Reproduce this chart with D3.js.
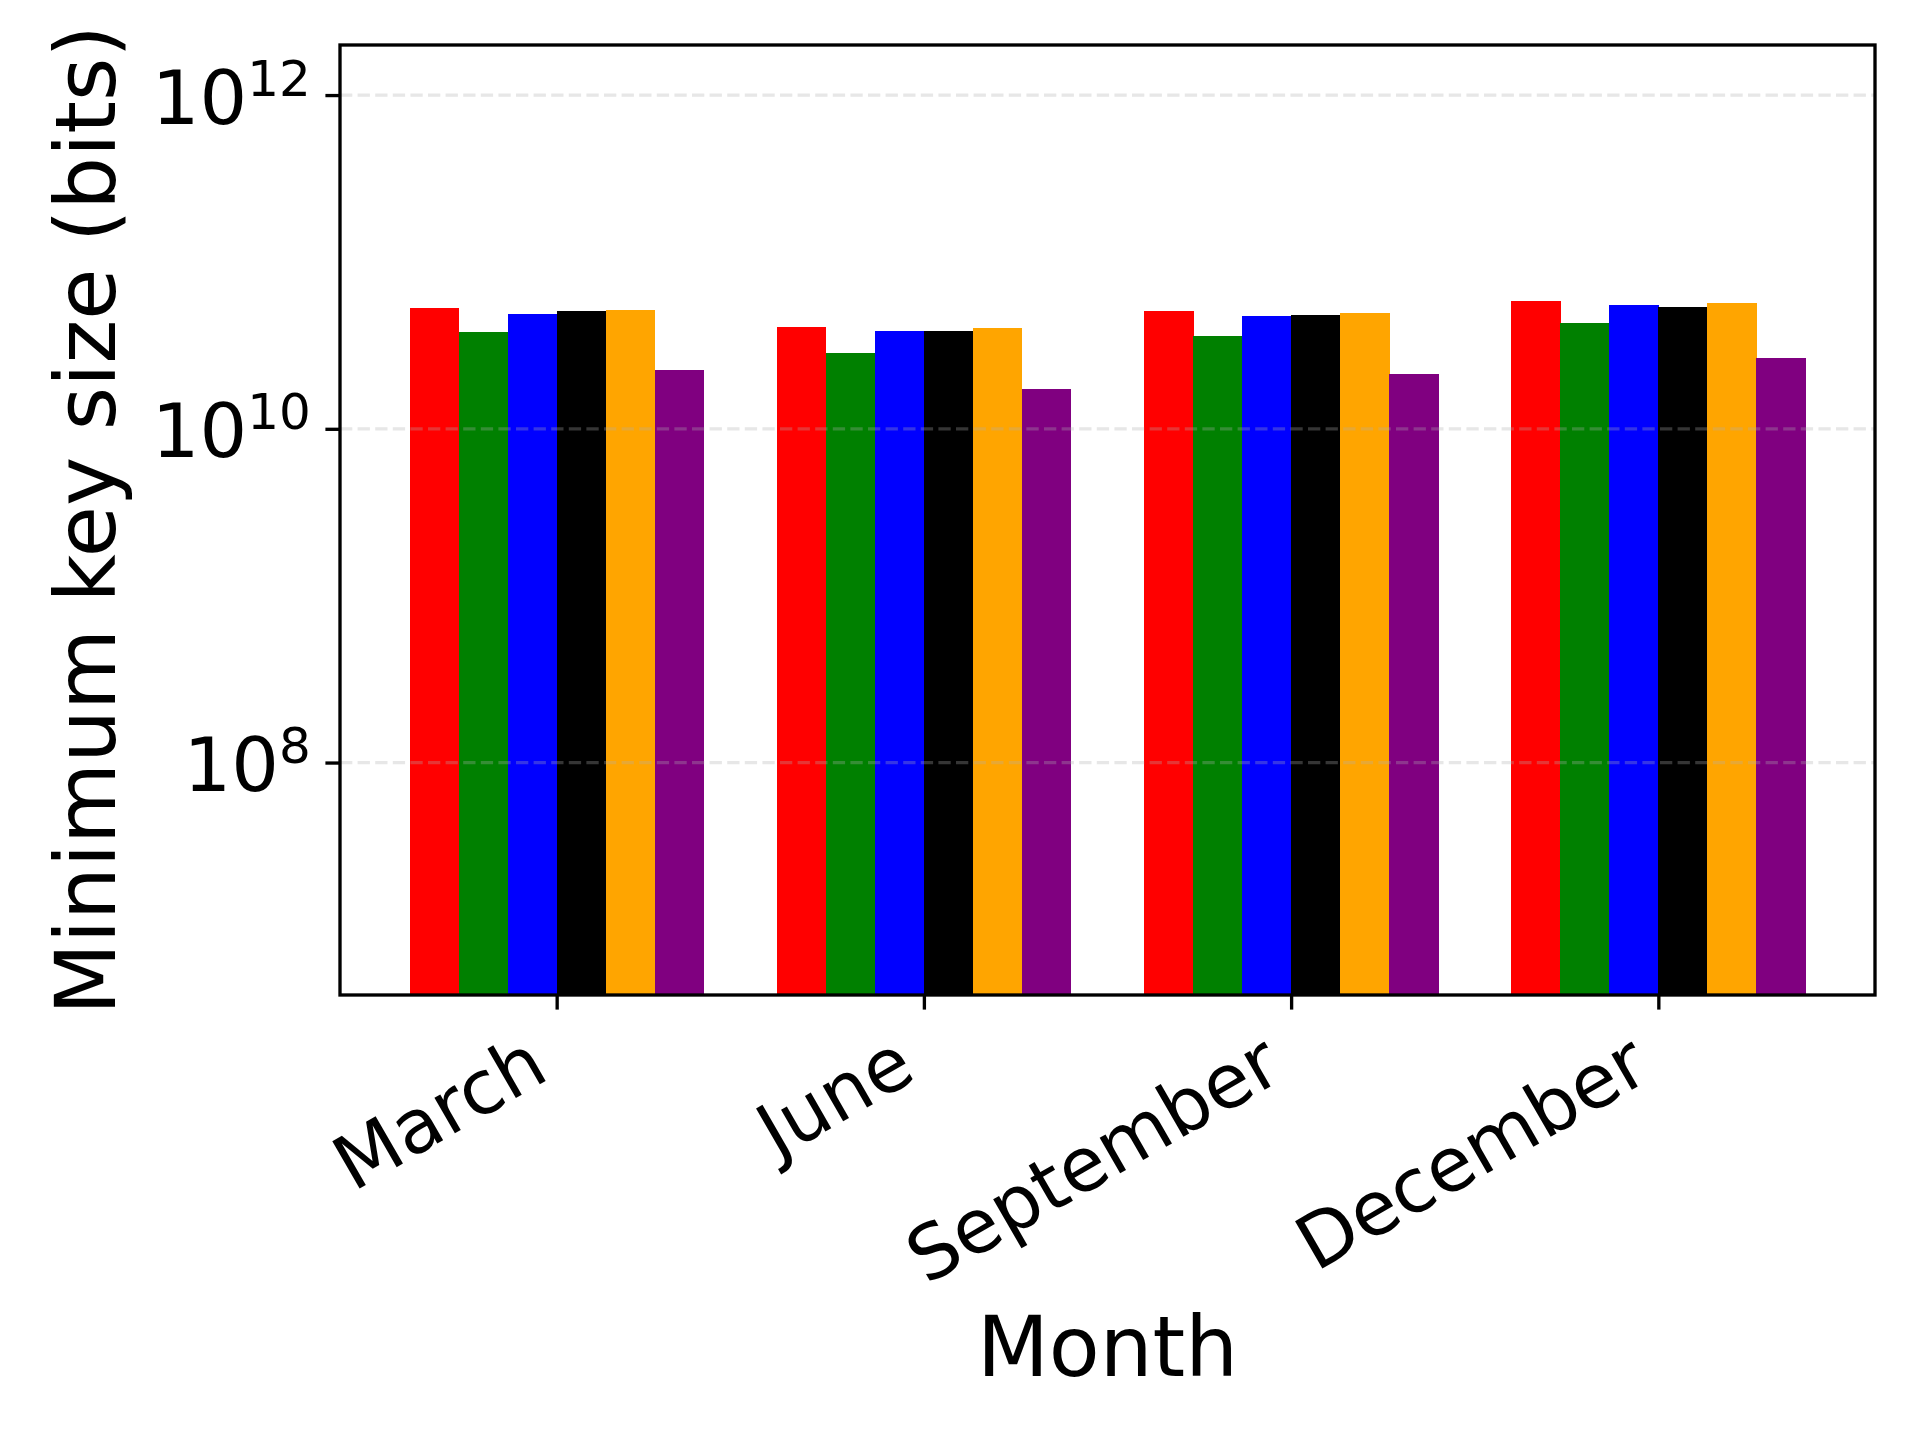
<!DOCTYPE html>
<html>
<head>
<meta charset="utf-8">
<script src="https://cdn.jsdelivr.net/npm/d3@7"></script>
<style>
  html, body { margin: 0; padding: 0; background: #fff; }
  svg { display: block; font-family: "DejaVu Sans", sans-serif; }
</style>
</head>
<body>
<svg id="chart" width="1920" height="1440"></svg>
<script>
// ---- data ----
const months = ["March", "June", "September", "December"];
const seriesColors = ["#ff0000", "#008000", "#0000ff", "#000000", "#ffa500", "#800080"];
const seriesRed    = [5.31e10, 4.08e10, 5.09e10, 5.85e10];
const seriesGreen  = [3.81e10, 2.85e10, 3.61e10, 4.31e10];
const seriesBlue   = [4.89e10, 3.87e10, 4.75e10, 5.53e10];
const seriesBlack  = [5.09e10, 3.86e10, 4.82e10, 5.38e10];
const seriesOrange = [5.17e10, 4.03e10, 4.95e10, 5.69e10];
const seriesPurple = [2.26e10, 1.74e10, 2.14e10, 2.66e10];
const yTickValues = [1e8, 1e10, 1e12];
const yTickExponents = ["8", "10", "12"];
const xLabel = "Month";
const yLabel = "Minimum key size (bits)";

const series = [seriesRed, seriesGreen, seriesBlue, seriesBlack, seriesOrange, seriesPurple];

// ---- layout ----
const L = 340, R = 1875, T = 45, B = 995;
const groupWidth = 0.8;
const nSeries = series.length;
const barW = groupWidth / nSeries;

const svg = d3.select("#chart");

const x = d3.scaleLinear().domain([-0.59, 3.59]).range([L, R]);
const y = d3.scaleLog().domain([Math.pow(10, 6.607), Math.pow(10, 12.30)]).range([B, T]);

// bars
const barsG = svg.append("g").attr("shape-rendering", "crispEdges");
series.forEach((vals, si) => {
  barsG.selectAll(null)
    .data(vals)
    .enter()
    .append("rect")
    .attr("x", (d, i) => x(i - groupWidth / 2 + si * barW))
    .attr("width", x(barW) - x(0) + 0.5)
    .attr("y", d => y(d))
    .attr("height", d => B - y(d))
    .attr("fill", seriesColors[si]);
});

// grid lines (drawn over bars)
svg.append("g")
  .selectAll("line")
  .data(yTickValues)
  .enter()
  .append("line")
  .attr("x1", L).attr("x2", R)
  .attr("y1", d => y(d)).attr("y2", d => y(d))
  .attr("stroke", "#b0b0b0")
  .attr("stroke-opacity", 0.3)
  .attr("stroke-width", 3.33)
  .attr("stroke-dasharray", "12.3 5.3");

// y axis
const yAxis = d3.axisLeft(y)
  .tickValues(yTickValues)
  .tickSize(14.6)
  .tickPadding(14.6)
  .tickFormat("");
const yAxisG = svg.append("g").attr("transform", `translate(${L},0)`).call(yAxis);
yAxisG.select(".domain").remove();
yAxisG.selectAll(".tick line").attr("stroke", "#000").attr("stroke-width", 3.33);
yAxisG.selectAll(".tick text").remove();
yAxisG.selectAll(".tick").each(function(d, i) {
  const t = d3.select(this).append("text")
    .attr("x", -14.6 - 14.6)
    .attr("y", 28)
    .attr("text-anchor", "end")
    .attr("fill", "#000")
    .style("font-family", "DejaVu Sans")
    .style("font-size", "75px");
  t.append("tspan").text("10");
  t.append("tspan").attr("dy", -28).style("font-size", "50px").text(yTickExponents[i]);
});

// x axis
const xAxis = d3.axisBottom(x)
  .tickValues(months.map((m, i) => i))
  .tickSize(14.6)
  .tickPadding(14.6)
  .tickFormat(i => months[i]);
const xAxisG = svg.append("g").attr("transform", `translate(0,${B})`).call(xAxis);
xAxisG.select(".domain").remove();
xAxisG.selectAll(".tick line").attr("stroke", "#000").attr("stroke-width", 3.33);
xAxisG.selectAll(".tick text")
  .attr("fill", "#000")
  .style("font-family", "DejaVu Sans")
  .style("font-size", "75px")
  .attr("text-anchor", "end")
  .attr("dy", null)
  .attr("y", 0)
  .each(function() {
    // rotate 30deg CCW, then align rotated bbox: right edge at tick, top at tick end + pad
    const el = this;
    const bb = el.getBBox();
    const a = -30 * Math.PI / 180;
    const corners = [
      [bb.x, bb.y], [bb.x + bb.width, bb.y],
      [bb.x, bb.y + bb.height], [bb.x + bb.width, bb.y + bb.height]
    ].map(([px, py]) => [px * Math.cos(a) - py * Math.sin(a), px * Math.sin(a) + py * Math.cos(a)]);
    const maxX = d3.max(corners, c => c[0]);
    const minY = d3.min(corners, c => c[1]);
    const tx = 3 - maxX;
    const ty = 14.6 + 14.6 - 7 - minY;
    d3.select(el).attr("transform", `translate(${tx},${ty}) rotate(-30)`);
  });

// frame (spines)
svg.append("rect")
  .attr("x", L).attr("y", T)
  .attr("width", R - L).attr("height", B - T)
  .attr("fill", "none")
  .attr("stroke", "#000")
  .attr("stroke-width", 3.33);

// axis labels
svg.append("text")
  .attr("x", (L + R) / 2)
  .attr("y", 1376)
  .attr("text-anchor", "middle")
  .style("font-size", "83.3px")
  .attr("fill", "#000")
  .text(xLabel);

svg.append("text")
  .attr("transform", `translate(115,${(T + B) / 2}) rotate(-90)`)
  .attr("text-anchor", "middle")
  .style("font-size", "83.3px")
  .attr("fill", "#000")
  .text(yLabel);
</script>
</body>
</html>
